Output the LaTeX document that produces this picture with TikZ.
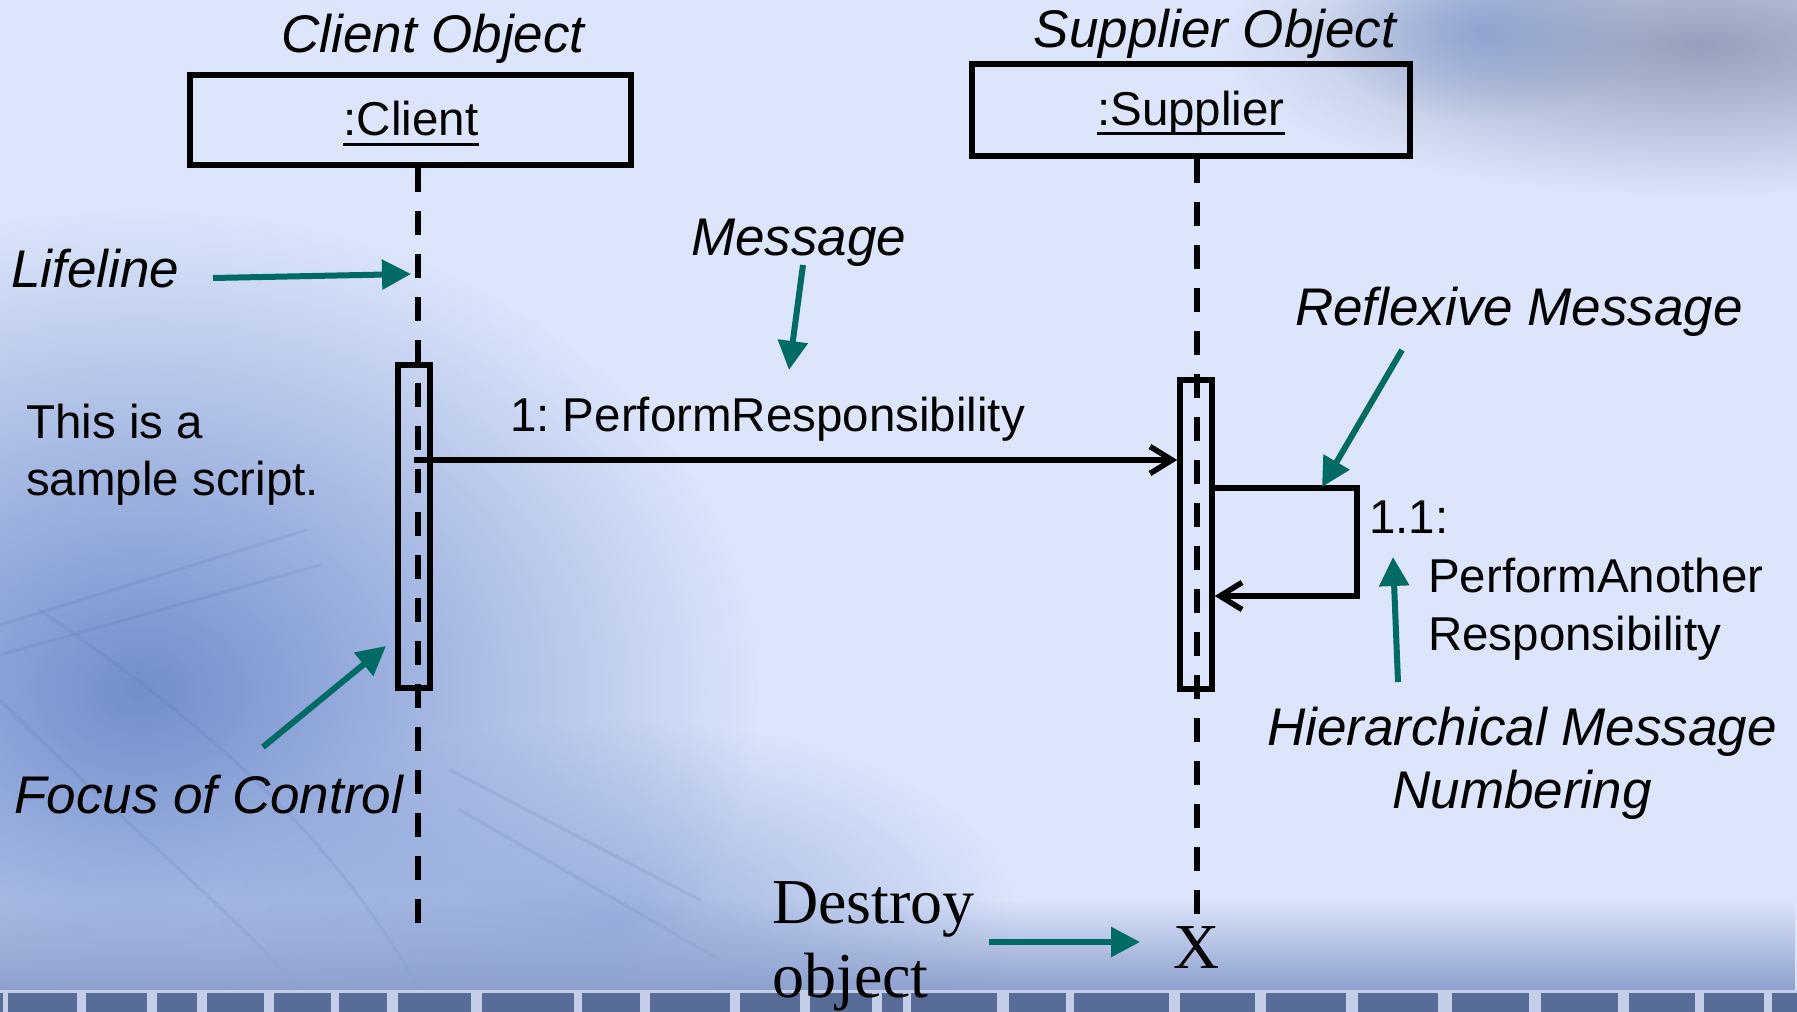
\documentclass[tikz,border=0pt]{standalone}
\usepackage{fontspec}
\setmainfont{Liberation Sans}
\newfontfamily\timesfont{Liberation Serif}
\usetikzlibrary{arrows.meta,fadings}
\tikzfading[name=blobfade, inner color=transparent!0, outer color=transparent!100]
\tikzfading[name=risefade, top color=transparent!100, bottom color=transparent!0]

\definecolor{bgc}{RGB}{220,229,251}
\definecolor{notecol}{RGB}{0,106,101}
\definecolor{hazeblue}{RGB}{108,138,202}
\definecolor{hazegray}{RGB}{150,160,188}
\definecolor{bandcol}{RGB}{140,160,205}
\definecolor{tilecol}{RGB}{88,108,152}
\definecolor{stripcol}{RGB}{196,206,232}
\definecolor{sketchcol}{RGB}{70,100,165}

\frenchspacing
\begin{document}
\begin{tikzpicture}[x=1pt,y=-1pt,
  objbox/.style={draw, line width=6pt, minimum width=441pt, minimum height=90pt, inner sep=0pt},
  actbar/.style={draw, line width=5.5pt, minimum width=32pt, inner sep=0pt},
  lifeline/.style={line width=6pt, dash pattern=on 24pt off 19pt},
  msg/.style={line width=5.5pt, -{Straight Barb[length=22pt,width=27pt,line width=5.5pt]}},
  note/.style={notecol, line width=6pt, -{Triangle[length=29pt,width=29pt]}},
  txt/.style={inner sep=0pt, font=\fontsize{47.5}{57}\selectfont},
  ital/.style={inner sep=0pt, font=\fontsize{53}{62}\selectfont\itshape},
  serif/.style={inner sep=0pt, font=\fontsize{64}{74}\selectfont\timesfont},
  sketch/.style={sketchcol, opacity=0.12, line width=3pt, line cap=round},
]
\useasboundingbox (0,0) rectangle (1797,1012);

% ---------- backdrop ----------
\begin{scope}
  \clip (0,0) rectangle (1797,1012);
  \fill[bgc] (0,0) rectangle (1797,1012);
  \fill[hazeblue, opacity=0.95, path fading=blobfade] (140,690) ellipse [x radius=620pt, y radius=480pt];
  \fill[hazeblue, opacity=0.55, path fading=blobfade] (620,920) ellipse [x radius=400pt, y radius=200pt];
  \fill[hazegray, opacity=1, path fading=blobfade] (1700,45) ellipse [x radius=480pt, y radius=150pt];
  \fill[hazeblue, opacity=0.5, path fading=blobfade] (1480,30) ellipse [x radius=160pt, y radius=90pt];
  % faint stair sketch
  \draw[sketch] (0,625) -- (306,530);
  \draw[sketch] (0,655) -- (320,565);
  \draw[sketch] (0,700) .. controls (120,820) and (220,900) .. (300,990);
  \draw[sketch] (40,610) .. controls (200,720) and (330,830) .. (420,990);
  \draw[sketch] (450,770) -- (700,900);
  \draw[sketch] (460,810) -- (720,960);
  % darker band and tiled strip at the foot
  \fill[bandcol, path fading=risefade] (0,900) rectangle (1797,991);
  \fill[stripcol] (0,990) rectangle (1797,1012);
  \foreach \a/\b in {0/3, 8/77, 86/147, 157/197, 207/264, 274/331, 339/387, 398/471,
      482/574, 582/640, 650/730, 740/800, 810/872, 882/903, 911/997, 1009/1066,
      1074/1169, 1180/1255, 1266/1346, 1358/1438, 1452/1529, 1541/1618,
      1629/1695, 1704/1764, 1772/1797}
    \fill[tilecol] (\a,993) rectangle (\b,1012);
\end{scope}

% ---------- objects ----------
\node[ital, anchor=base] (clienttitle) at (433,52) {Client Object};
\node[ital, anchor=base] (suppliertitle) at (1215,47) {Supplier Object};

\node[objbox] (client) at (410.5,120) {};
\node[objbox, minimum width=438pt, minimum height=92pt] (supplier) at (1191,110) {};

\node[txt, anchor=base] (clientlbl) at (411,135) {:Client};
\draw[line width=3pt] ([yshift=-9pt]clientlbl.base west) -- ([yshift=-9pt]clientlbl.base east);
\node[txt, anchor=base] (supplierlbl) at (1191,125) {:Supplier};
\draw[line width=3pt] ([yshift=-8pt]supplierlbl.base west) -- ([yshift=-8pt]supplierlbl.base east);

% ---------- lifelines ----------
\coordinate (clientend) at (418,933);
\coordinate (supplierend) at (1197,925);
\draw[lifeline] (client.south -| clientend) -- (clientend);
\draw[lifeline] (supplier.south -| supplierend) -- (supplierend);

% ---------- activations ----------
\node[actbar, minimum height=323pt] (focusA) at (414,526.5) {};
\node[actbar, minimum height=309pt] (focusB) at (1196,534.5) {};

% ---------- messages ----------
\coordinate (m1) at (414,460);
\draw[msg] (m1) -- (m1 -| focusB.west);
\node[txt, anchor=base west] (m1lbl) at (510,431) {1: PerformResponsibility};

\coordinate (r1) at (1357,488);
\coordinate (r2) at (1357,596);
\draw[msg, line join=miter] (r1 -| focusB.east) -- (r1) -- (r2) -- (r2 -| focusB.east);
\node[txt, anchor=base west] (r1lblA) at (1369,533) {1.1:};
\node[txt, anchor=base west] (r1lblB) at (1428,592) {PerformAnother};
\node[txt, anchor=base west] (r1lblC) at (1428,650) {Responsibility};

\node[txt, anchor=base west] (scriptA) at (26,438) {This is a};
\node[txt, anchor=base west] (scriptB) at (26,495) {sample script.};

% ---------- destruction ----------
\node[serif, anchor=base] (xmark) at (1197,968) {X};
\node[serif, anchor=base west] (destroyA) at (772,923) {Destroy};
\node[serif, anchor=base west] (destroyB) at (772,997) {object};

% ---------- annotations ----------
\node[ital, anchor=base west] (lifenote) at (11,287) {Lifeline};
\node[ital, anchor=base west] (msgnote) at (691,255) {Message};
\node[ital, anchor=base west] (reflnote) at (1295,325) {Reflexive Message};
\node[ital, anchor=base west] (focusnote) at (14,813) {Focus of Control};
\node[ital, anchor=base] (hierA) at (1522,745) {Hierarchical Message};
\node[ital, anchor=base] (hierB) at (1522,808) {Numbering};

\coordinate (lifeS) at (213,278);   \coordinate (lifeT) at (411,274);
\coordinate (msgS) at (803,265);    \coordinate (msgT) at (789,370);
\coordinate (reflS) at (1402,350);  \coordinate (reflT) at (1322,487);
\coordinate (focS) at (263,747);    \coordinate (focT) at (386,646);
\coordinate (hierS) at (1398,682);  \coordinate (hierT) at (1393,557);
\coordinate (desS) at (989,942);    \coordinate (desT) at (1140,942);

\draw[note] (lifeS) -- (lifeT);
\draw[note] (msgS) -- (msgT);
\draw[note] (reflS) -- (reflT);
\draw[note] (focS) -- (focT);
\draw[note] (hierS) -- (hierT);
\draw[note] (desS) -- (desT);
\end{tikzpicture}
\end{document}
